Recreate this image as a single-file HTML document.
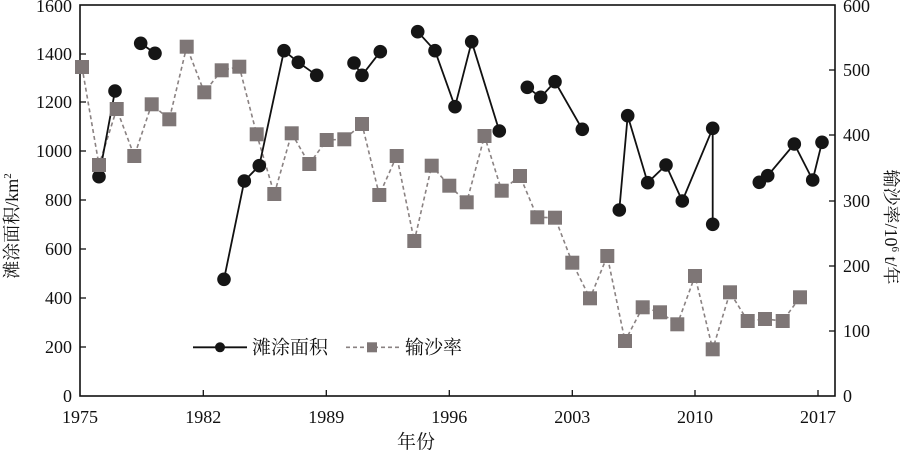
<!DOCTYPE html>
<html><head><meta charset="utf-8"><style>
html,body{margin:0;padding:0;background:#fff;}
svg{display:block;}
text{font-family:"Liberation Serif","Noto Serif CJK SC","Noto Sans CJK SC",serif;fill:#111;}
</style></head><body>
<svg width="900" height="451" viewBox="0 0 900 451" xmlns="http://www.w3.org/2000/svg">
<rect x="80" y="5" width="755" height="391" fill="none" stroke="#111" stroke-width="1.6"/>
<g stroke="#111" stroke-width="1.3">
<line x1="80" y1="347" x2="86" y2="347"/><line x1="80" y1="298" x2="86" y2="298"/><line x1="80" y1="249" x2="86" y2="249"/><line x1="80" y1="200" x2="86" y2="200"/><line x1="80" y1="151" x2="86" y2="151"/><line x1="80" y1="102" x2="86" y2="102"/><line x1="80" y1="54" x2="86" y2="54"/>
<line x1="835" y1="331" x2="829" y2="331"/><line x1="835" y1="266" x2="829" y2="266"/><line x1="835" y1="201" x2="829" y2="201"/><line x1="835" y1="135" x2="829" y2="135"/><line x1="835" y1="70" x2="829" y2="70"/>
<line x1="203.3" y1="396" x2="203.3" y2="390"/><line x1="326.3" y1="396" x2="326.3" y2="390"/><line x1="449.3" y1="396" x2="449.3" y2="390"/><line x1="572.3" y1="396" x2="572.3" y2="390"/><line x1="695" y1="396" x2="695" y2="390"/><line x1="818" y1="396" x2="818" y2="390"/>
</g>
<g font-size="18" text-anchor="end">
<text x="72" y="402">0</text><text x="72" y="353">200</text><text x="72" y="304">400</text><text x="72" y="255">600</text><text x="72" y="206">800</text><text x="72" y="157">1000</text><text x="72" y="108">1200</text><text x="72" y="60">1400</text><text x="72" y="12">1600</text>
</g>
<g font-size="18" text-anchor="start">
<text x="843" y="402">0</text><text x="843" y="337">100</text><text x="843" y="272">200</text><text x="843" y="207">300</text><text x="843" y="141">400</text><text x="843" y="76">500</text><text x="843" y="12">600</text>
</g>
<g font-size="18" text-anchor="middle">
<text x="80" y="423">1975</text><text x="203.3" y="423">1982</text><text x="326.3" y="423">1989</text><text x="449.3" y="423">1996</text><text x="572.3" y="423">2003</text><text x="695" y="423">2010</text><text x="818" y="423">2017</text>
</g>
<text x="416" y="448" font-size="19" text-anchor="middle">年份</text>
<text transform="translate(18,226) rotate(-90)" font-size="18" text-anchor="middle">滩涂面积/km<tspan font-size="11" dy="-7">2</tspan></text>
<text transform="translate(885,227) rotate(90)" font-size="18" text-anchor="middle">输沙率/10<tspan font-size="11" dy="-7">6</tspan><tspan dy="7"> t/年</tspan></text>
<polyline fill="none" stroke="#8a8282" stroke-width="1.6" stroke-dasharray="4,3" points="82,67 99,165 116.7,109 134.3,156 151.7,104.3 169.3,119.3 186.7,46.7 204.3,92.3 221.7,70.3 239.3,66.7 256.7,134.3 274.3,194 291.7,133.3 309.3,164 326.7,140 344.3,139.3 362,124 379.3,195 396.7,156 414.3,241 431.7,165.7 449.3,185.7 466.7,202.3 484.5,136 501.7,190.7 520,176 537.3,217.3 555,217.7 572.3,262.7 590,298.3 607.3,256 625,341 642.7,307.3 660,312.3 677.3,324.3 695,276 712.7,349.3 730,292.3 747.7,321 765,319 782.7,321 800,297.3"/>
<g fill="none" stroke="#111" stroke-width="1.8">
<polyline points="99,176.7 115,91"/>
<polyline points="140.7,43.3 155,53.3"/>
<polyline points="224,279.3 244.3,181 259.3,165.7 284,50.7 298.3,62.3 316.7,75.3"/>
<polyline points="354,63 362,75.3 380.3,51.7"/>
<polyline points="417.7,31.7 435,50.7 455,106.7 471.7,41.7 499.3,131"/>
<polyline points="527.3,87.3 540.7,97.3 555,81.7 582.3,129.3"/>
<polyline points="619.3,210 627.7,115.7 647.7,182.7 666,165 682.3,201 712.7,128.3 712.7,224.3"/>
<polyline points="759.3,182.3 767.7,175.7 794.3,144 812.7,180 822,142.3"/>
</g>
<g fill="#151515">
<circle cx="99" cy="176.7" r="6.8"/><circle cx="115" cy="91" r="6.8"/><circle cx="140.7" cy="43.3" r="6.8"/><circle cx="155" cy="53.3" r="6.8"/>
<circle cx="224" cy="279.3" r="6.8"/><circle cx="244.3" cy="181" r="6.8"/><circle cx="259.3" cy="165.7" r="6.8"/><circle cx="284" cy="50.7" r="6.8"/><circle cx="298.3" cy="62.3" r="6.8"/><circle cx="316.7" cy="75.3" r="6.8"/>
<circle cx="354" cy="63" r="6.8"/><circle cx="362" cy="75.3" r="6.8"/><circle cx="380.3" cy="51.7" r="6.8"/>
<circle cx="417.7" cy="31.7" r="6.8"/><circle cx="435" cy="50.7" r="6.8"/><circle cx="455" cy="106.7" r="6.8"/><circle cx="471.7" cy="41.7" r="6.8"/><circle cx="499.3" cy="131" r="6.8"/>
<circle cx="527.3" cy="87.3" r="6.8"/><circle cx="540.7" cy="97.3" r="6.8"/><circle cx="555" cy="81.7" r="6.8"/><circle cx="582.3" cy="129.3" r="6.8"/>
<circle cx="619.3" cy="210" r="6.8"/><circle cx="627.7" cy="115.7" r="6.8"/><circle cx="647.7" cy="182.7" r="6.8"/><circle cx="666" cy="165" r="6.8"/><circle cx="682.3" cy="201" r="6.8"/><circle cx="712.7" cy="128.3" r="6.8"/><circle cx="712.7" cy="224.3" r="6.8"/>
<circle cx="759.3" cy="182.3" r="6.8"/><circle cx="767.7" cy="175.7" r="6.8"/><circle cx="794.3" cy="144" r="6.8"/><circle cx="812.7" cy="180" r="6.8"/><circle cx="822" cy="142.3" r="6.8"/>
</g>
<g fill="#7e7676" id="sq"></g>
<line x1="193" y1="347.3" x2="247" y2="347.3" stroke="#111" stroke-width="1.8"/>
<circle cx="220" cy="347.3" r="5" fill="#151515"/>
<text x="252" y="353.5" font-size="19">滩涂面积</text>
<line x1="346" y1="347.3" x2="400" y2="347.3" stroke="#8a8282" stroke-width="1.6" stroke-dasharray="4,3"/>
<rect x="367" y="342.3" width="10" height="10" fill="#7e7676"/>
<text x="405" y="353.5" font-size="19">输沙率</text>
</svg>
<script>
var p=[[82,67],[99,165],[116.7,109],[134.3,156],[151.7,104.3],[169.3,119.3],[186.7,46.7],[204.3,92.3],[221.7,70.3],[239.3,66.7],[256.7,134.3],[274.3,194],[291.7,133.3],[309.3,164],[326.7,140],[344.3,139.3],[362,124],[379.3,195],[396.7,156],[414.3,241],[431.7,165.7],[449.3,185.7],[466.7,202.3],[484.5,136],[501.7,190.7],[520,176],[537.3,217.3],[555,217.7],[572.3,262.7],[590,298.3],[607.3,256],[625,341],[642.7,307.3],[660,312.3],[677.3,324.3],[695,276],[712.7,349.3],[730,292.3],[747.7,321],[765,319],[782.7,321],[800,297.3]];
var g=document.getElementById('sq'),ns='http://www.w3.org/2000/svg';
for(var i=0;i<p.length;i++){var r=document.createElementNS(ns,'rect');r.setAttribute('x',p[i][0]-7);r.setAttribute('y',p[i][1]-7);r.setAttribute('width',14);r.setAttribute('height',14);g.appendChild(r);}
</script>
</body></html>
